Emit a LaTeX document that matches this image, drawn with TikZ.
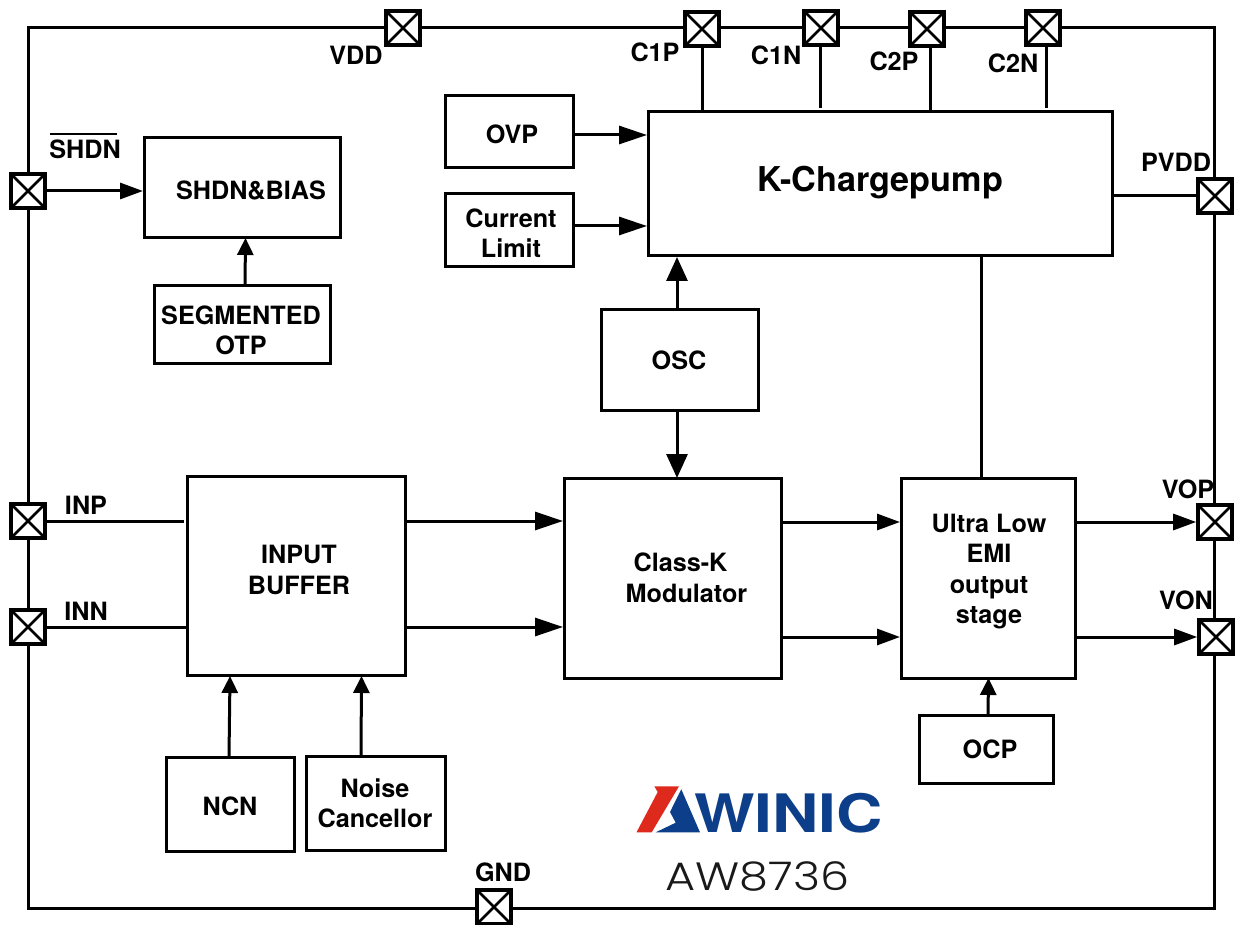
\documentclass[tikz,border=0pt]{standalone}
\usepackage{fontspec}
\setmainfont{TeX Gyre Heros}
\newfontfamily\thinfont[UprightFont={* Light}]{Poppins}
\usetikzlibrary{arrows.meta}
\tikzset{
  ln/.style={line width=3pt,black},
  thin ln/.style={line width=3pt,black},
  arr/.style={line width=3pt,-{Triangle[length=28pt,width=18pt]}},
  arrs/.style={line width=3pt,-{Triangle[length=23pt,width=16pt]}},
  arrb/.style={line width=3pt,-{Triangle[length=24pt,width=21pt]}},
  arrm/.style={line width=3pt,-{Triangle[length=17pt,width=16pt]}},
  box/.style={draw,line width=3pt,fill=white,inner sep=0pt},
  lbl/.style={inner sep=0pt,font=\fontsize{25.2}{26}\selectfont\bfseries},
  mlbl/.style={inner sep=0pt,align=center,font=\fontsize{25.2}{30.5}\selectfont\bfseries},
  pad/.style={draw,line width=3.6pt,fill=white,minimum size=34pt,inner sep=0pt,path picture={
    \draw[line width=2.8pt] (path picture bounding box.north west)--(path picture bounding box.south east)
    (path picture bounding box.north east)--(path picture bounding box.south west);}},
}
\begin{document}
\begin{tikzpicture}[x=1pt,y=-1pt]
\useasboundingbox (0,0) rectangle (1240,925);
\coordinate (tl) at (28,28);\coordinate (tr) at (1214,28);\coordinate (br) at (1214,908);\coordinate (bl) at (28,908);
\draw[ln] (tl)--(tr)--(br)--(bl)--cycle;
% boxes
\node[box,minimum width=196pt,minimum height=100pt] (bias) at (242,188) {};
\node[box,minimum width=176pt,minimum height=78pt] (otp) at (242,325) {};
\node[box,minimum width=128pt,minimum height=72pt] (ovp) at (509,132) {};
\node[box,minimum width=128pt,minimum height=73pt] (cl) at (509,230.5) {};
\node[box,minimum width=464pt,minimum height=144pt] (kcp) at (880,184) {};
\node[box,minimum width=157pt,minimum height=100pt] (osc) at (679.5,360) {};
\node[box,minimum width=218pt,minimum height=199pt] (ib) at (296,575.5) {};
\node[box,minimum width=217pt,minimum height=200pt] (ck) at (672.5,578) {};
\node[box,minimum width=174pt,minimum height=200pt] (us) at (988,578) {};
\node[box,minimum width=128pt,minimum height=94pt] (ncn) at (230,804) {};
\node[box,minimum width=139pt,minimum height=94pt] (nc) at (375.5,803) {};
\node[box,minimum width=134pt,minimum height=68pt] (ocp) at (986,749) {};
% box texts
\node[lbl] (tbias) at (251,190) {SHDN\&BIAS};
\node[mlbl] (totp) at (241,330.5) {SEGMENTED\\OTP};
\node[lbl] (tovp) at (512,134) {OVP};
\node[mlbl] (tcl) at (511,233) {Current\\Limit};
\node[lbl,font=\fontsize{34.2}{36}\selectfont\bfseries] (tkcp) at (880,182.5) {K-Chargepump};
\node[lbl] (tosc) at (679,360) {OSC};
\node[mlbl] (tib) at (299,570) {INPUT\\BUFFER};
\node[mlbl] (tck) at (686.5,578) {Class-K\hspace*{12pt}\\Modulator};
\node[mlbl] (tus) at (989,571.5) {Ultra Low\\EMI\\output\\stage};
\node[lbl] (tncn) at (230,806) {NCN};
\node[mlbl] (tnc) at (375,803.5) {Noise\\Cancellor};
\node[lbl] (tocp) at (990,749.5) {OCP};
% pads
\node[pad] (vdd) at (403,28) {};
\node[pad] (c1p) at (702,29) {};
\node[pad] (c1n) at (821,28) {};
\node[pad] (c2p) at (927,29) {};
\node[pad] (c2n) at (1043,28) {};
\node[pad] (pvdd) at (1215,196) {};
\node[pad] (vop) at (1215,522) {};
\node[pad] (von) at (1216,637) {};
\node[pad] (gnd) at (494,907) {};
\node[pad] (shdn) at (28,191) {};
\node[pad] (inp) at (28,521) {};
\node[pad] (inn) at (28,627) {};
% pin labels
\node[lbl] (lvdd) at (356,55) {VDD};
\node[lbl] (lc1p) at (655,52) {C1P};
\node[lbl] (lc1n) at (776,55.5) {C1N};
\node[lbl] (lc2p) at (894,61) {C2P};
\node[lbl] (lc2n) at (1013,63.5) {C2N};
\node[lbl] (lpvdd) at (1176,162) {PVDD};
\node[lbl] (lvop) at (1188,489) {VOP};
\node[lbl] (lvon) at (1186,600.5) {VON};
\node[lbl] (lgnd) at (503,872.5) {GND};
\node[lbl] (lshdn) at (85,149.5) {SHDN};
\node[lbl] (linp) at (86,505) {INP};
\node[lbl] (linn) at (86,611.5) {INN};
\coordinate (ola) at (50,134);\coordinate (olb) at (117,134);
\draw[line width=2.4pt] (ola)--(olb);
% connectors
\coordinate (e1n) at (820,108);\coordinate (s1n) at (820,46);
\coordinate (e2n) at (1046,108);\coordinate (s2n) at (1046,46);
\coordinate (s2p) at (930,47);\coordinate (e2p) at (930,112);
\draw[thin ln] (c1p.south)--(c1p.south |- kcp.north);
\draw[thin ln] (s1n)--(e1n);
\draw[thin ln] (s2p)--(e2p);
\draw[thin ln] (s2n)--(e2n);
\draw[ln] (kcp.east |- pvdd)--(pvdd.west);
\draw[arrs] (shdn.east)--(143,191) coordinate (a1);
\coordinate (otpu) at (245,286);\coordinate (biasd) at (245.5,238);
\draw[arrm] (otpu)--(biasd);
\draw[arr] (ovp.east |- 0,135)--(647,135);
\draw[arr] (cl.east |- 0,226)--(647,226);
\coordinate (oscu) at (677,310);\coordinate (kcpd) at (677,257);
\draw[arrb] (oscu)--(kcpd);
\coordinate (oscd) at (677,410);\coordinate (ckt) at (677,478);
\draw[arrb] (oscd)--(ckt);
\draw[ln] (981,256)--(981,478);
\draw[ln] (inp.east)--(184,521);
\draw[ln] (inn.east)--(ib.west |- inn);
\draw[arr] (ib.east |- 0,521)--(563,521);
\draw[arr] (ib.east |- 0,627)--(563,627);
\draw[arrs] (ck.east |- 0,522)--(900,522);
\draw[arrs] (ck.east |- 0,637)--(900,637);
\draw[arrs] (us.east |- 0,522)--(vop.west);
\draw[arrs] (us.east |- 0,637)--(von.west);
\coordinate (ncnu) at (229,757);\coordinate (ibd1) at (230,676);
\draw[arrm] (ncnu)--(ibd1);
\coordinate (ncu) at (361,756);\coordinate (ibd2) at (361.5,676);
\draw[arrm] (ncu)--(ibd2);
\coordinate (ocpu) at (988,715);\coordinate (usd) at (988.5,678);
\draw[arrm] (ocpu)--(usd);
% logo
\definecolor{lred}{RGB}{222,41,29}
\definecolor{lblue}{RGB}{13,62,137}
\fill[lred] (654.3,786.3)--(679,786.3)--(651.7,832.3)--(636.5,832.3)--(657.7,792)--cycle;
\fill[lblue] (681.3,789.3)--(700,832.3)--(655.7,832.3)--(675.7,822.7)--(670,812)--cycle;
\node[inner sep=0pt,anchor=base,text=lblue,font=\fontsize{53}{53}\selectfont\bfseries,xscale=1.21] (logo) at (788.5,832.3) {WINIC};
\node[inner sep=0pt,anchor=base,text=black!90,font=\fontsize{39.5}{39}\selectfont\thinfont,xscale=1.17] (aw) at (757.5,890) {AW8736};
\end{tikzpicture}
\end{document}
